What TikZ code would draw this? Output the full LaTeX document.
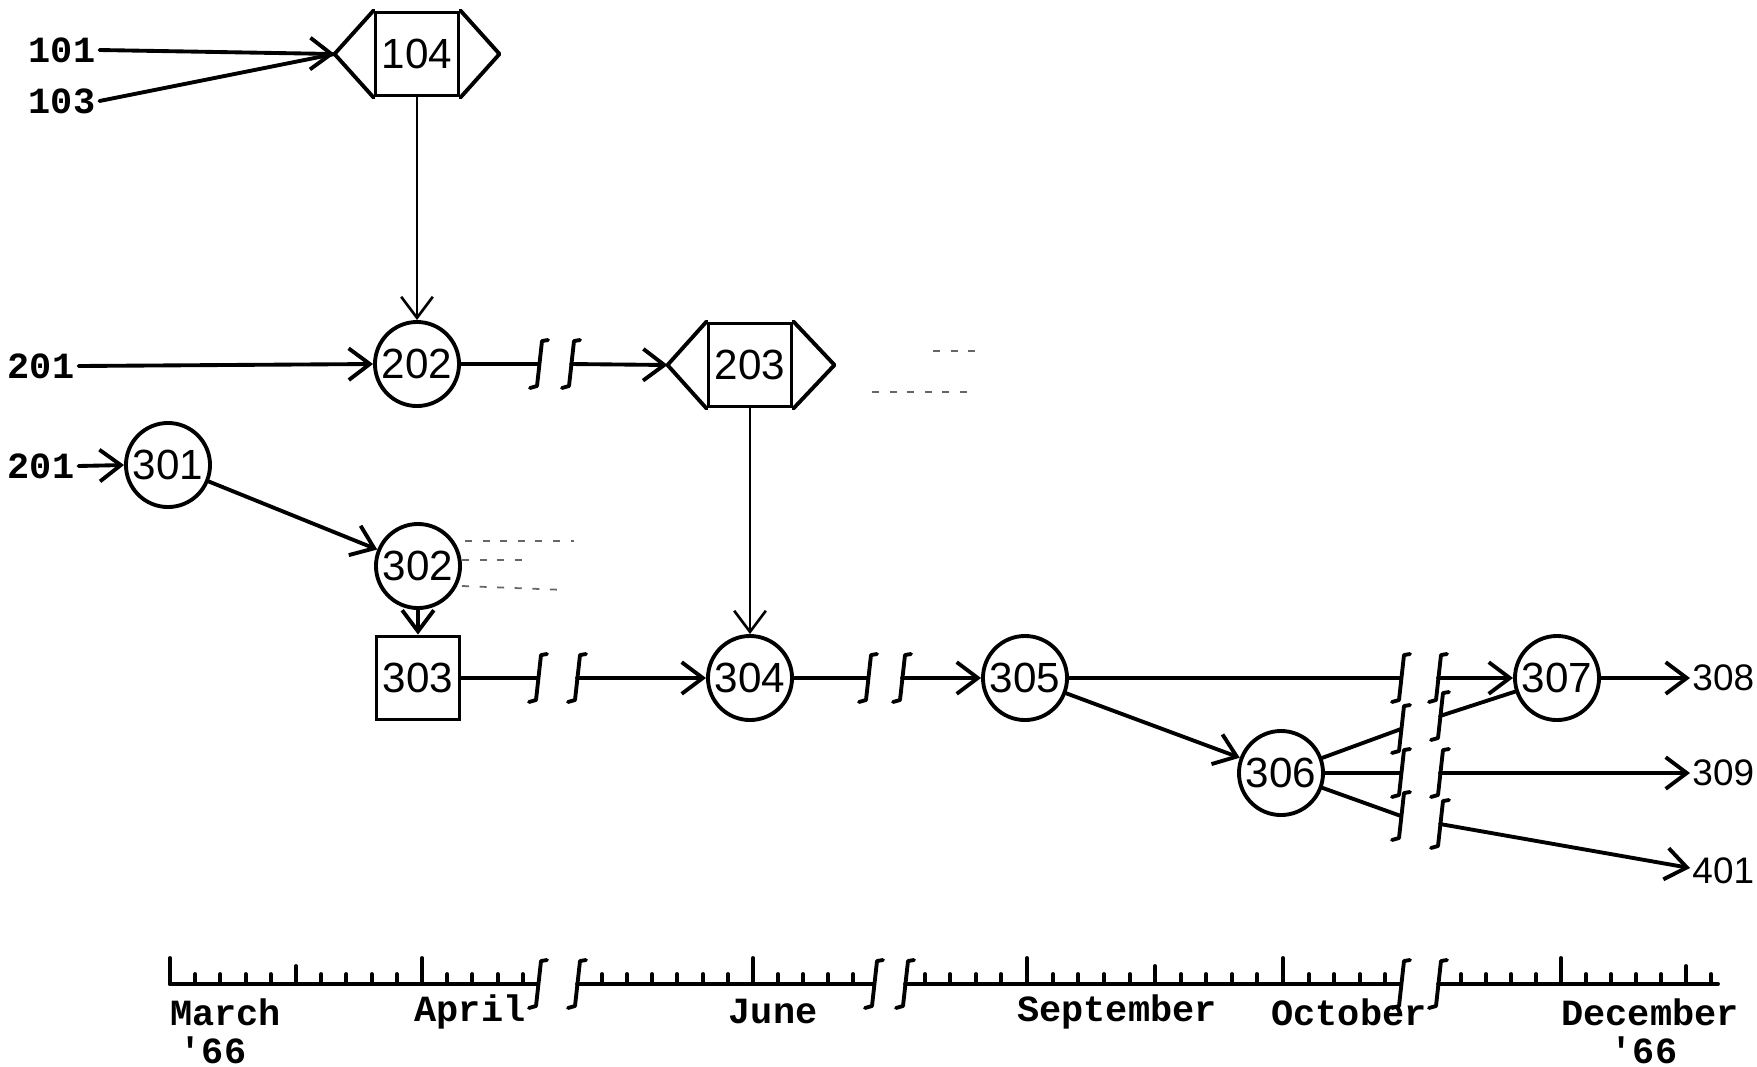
\documentclass[tikz,border=0pt]{standalone}
\usepackage{fontspec}
\newfontfamily\tw{Liberation Mono}
\newfontfamily\hw{Liberation Sans}
\usetikzlibrary{arrows.meta}
\begin{document}
\begin{tikzpicture}[x=0.01cm,y=-0.01cm,
  ln/.style={line width=1.1pt,line cap=round},
  thinln/.style={line width=0.75pt},
  arr/.style={-{Straight Barb[length=6pt,width=9pt]}},
  circ/.style={circle,draw,line width=1.1pt,minimum size=0.84cm,inner sep=0pt,font=\hw\fontsize{12}{12}\selectfont},
  box/.style={rectangle,draw,line width=1.1pt,minimum width=0.83cm,minimum height=0.83cm,inner sep=0pt,font=\hw\fontsize{12}{12}\selectfont},
  lab/.style={font=\tw\bfseries\fontsize{10.5}{10.5}\selectfont,inner sep=1pt},
  hlab/.style={font=\hw\fontsize{10.5}{10.5}\selectfont,inner sep=0.5pt},
  brk/.pic={\draw[line width=1.1pt,line cap=round,line join=round] (9,-24) -- (3,-23) -- (-2,22) -- (-9,24);},
  faint/.style={line width=0.5pt,black!60,dash pattern=on 2pt off 3pt}
]
\useasboundingbox (0,0) rectangle (1757,1066);

% ---------- nodes ----------
\node[box] (n104) at (417,54) {104};
\node[circ] (n202) at (417,364) {202};
\node[box] (n203) at (750,365) {203};
\node[circ] (n301) at (168,465) {301};
\node[circ] (n302) at (418,566) {302};
\node[box] (n303) at (418,678) {303};
\node[circ] (n304) at (750,678) {304};
\node[circ] (n305) at (1025,678) {305};
\node[circ] (n306) at (1281,773) {306};
\node[circ] (n307) at (1557,678) {307};

% hexagon points
\coordinate (n104L) at ([xshift=-0.39cm]n104.west);
\coordinate (n104R) at ([xshift=0.39cm]n104.east);
\coordinate (n203L) at ([xshift=-0.39cm]n203.west);
\coordinate (n203R) at ([xshift=0.41cm]n203.east);
\draw[ln,line join=round] (n104.north west) -- (n104L) -- (n104.south west);
\draw[ln,line join=round] (n104.north east) -- (n104R) -- (n104.south east);
\draw[ln,line join=round] (n203.north west) -- (n203L) -- (n203.south west);
\draw[ln,line join=round] (n203.north east) -- (n203R) -- (n203.south east);

% ---------- outside labels ----------
\node[lab] (l101) at (62,50) {101};
\node[lab] (l103) at (62,101) {103};
\node[lab] (l201a) at (41,366) {201};
\node[lab] (l201b) at (41,466) {201};
\node[hlab,anchor=west] (l308) at (1690,678) {308};
\node[hlab,anchor=west] (l309) at (1690,773) {309};
\node[hlab,anchor=west] (l401) at (1690,871) {401};

% ---------- connectors ----------
\draw[ln,arr] (l101.east) -- (n104L);
\draw[ln] (l103.east) -- (n104L);
\draw[thinln,arr] (n104.south) -- (n202.north);
\draw[ln,arr] (l201a.east) -- (n202.west);

\coordinate (b1a) at (539,364); \coordinate (b1b) at (571,364);
\draw[ln] (n202.east) -- (b1a);
\draw[ln,arr] (b1b) -- (n203L);
\pic at (b1a) {brk}; \pic at (b1b) {brk};

\draw[thinln,arr] (n203.south) -- (n304.north);

\draw[ln,arr] (l201b.east) -- (n301.west);
\draw[ln,arr] (n301) -- (n302);
\draw[ln,arr] (n302.south) -- (n303.north);

\coordinate (b2a) at (538,678); \coordinate (b2b) at (577,678);
\draw[ln] (n303.east) -- (b2a);
\draw[ln,arr] (b2b) -- (n304.west);
\pic at (b2a) {brk}; \pic at (b2b) {brk};

\coordinate (b3a) at (868,678); \coordinate (b3b) at (902,678);
\draw[ln] (n304.east) -- (b3a);
\draw[ln,arr] (b3b) -- (n305.west);
\pic at (b3a) {brk}; \pic at (b3b) {brk};

\coordinate (b4a) at (1401,678); \coordinate (b4b) at (1438,678);
\draw[ln] (n305.east) -- (b4a);
\draw[ln,arr] (b4b) -- (n307.west);
\pic at (b4a) {brk}; \pic at (b4b) {brk};

\draw[ln,arr] (n305) -- (n306);

\coordinate (b5a) at (1401,729); \coordinate (b5b) at (1440,716);
\draw[ln] (n306) -- (b5a);
\draw[ln] (b5b) -- (n307);
\pic at (b5a) {brk}; \pic at (b5b) {brk};

\coordinate (b6a) at (1401,773); \coordinate (b6b) at (1440,773);
\draw[ln] (n306.east) -- (b6a);
\draw[ln,arr] (b6b) -- (l309.west);
\pic at (b6a) {brk}; \pic at (b6b) {brk};

\coordinate (b7a) at (1401,816); \coordinate (b7b) at (1440,824);
\draw[ln] (n306) -- (b7a);
\draw[ln,arr] (b7b) -- ([yshift=0.03cm]l401.west);
\pic at (b7a) {brk}; \pic at (b7b) {brk};

\draw[ln,arr] (n307.east) -- (l308.west);

% faint dotted traces
\draw[faint] (933,351) -- (980,351);
\draw[faint] (872,392) -- (973,392);
\draw[faint] (465,541) -- (574,541);
\draw[faint] (462,560) -- (532,560);
\draw[faint] (462,586) -- (566,590);

% ---------- timeline ----------
\coordinate (t1a) at (170,984); \coordinate (t1b) at (538,984);
\coordinate (t2a) at (577,984); \coordinate (t2b) at (874,984);
\coordinate (t3a) at (905,984); \coordinate (t3b) at (1401,984);
\coordinate (t4a) at (1438,984); \coordinate (t4b) at (1718,984);
\draw[ln] (t1a) -- (t1b);
\draw[ln] (t2a) -- (t2b);
\draw[ln] (t3a) -- (t3b);
\draw[ln] (t4a) -- (t4b);
\pic at (t1b) {brk}; \pic at (t2a) {brk};
\pic at (t2b) {brk}; \pic at (t3a) {brk};
\pic at (t3b) {brk}; \pic at (t4a) {brk};

\foreach \x in {170,422,753,1027,1283,1561}
  \draw[ln] (\x,984) -- (\x,958);
\foreach \x in {296,1155,1686}
  \draw[ln] (\x,984) -- (\x,966);
\foreach \x in {195.2,220.4,245.6,270.8,321.2,346.4,371.6,396.8,447.2,472.4,497.6,522.8,
  602,627,652,677,703,728,778,803,828,853,
  925,950,976,1001,1053,1078,1104,1130,1181,1206,1232,1257,1309,1334,1360,1385,
  1461,1486,1511,1536,1586,1611,1636,1661,1711}
  \draw[ln] (\x,984) -- (\x,974);

\node[lab,anchor=west] (mMar) at (166,1012) {March};
\node[lab] (y1) at (213,1050) {'66};
\node[lab] (mApr) at (470,1012) {April};
\node[lab] (mJun) at (773,1012) {June};
\node[lab] (mSep) at (1117,1012) {September};
\node[lab] (mOct) at (1349,1012) {October};
\node[lab] (mDec) at (1650,1012) {December};
\node[lab] (y2) at (1644,1050) {'66};
\end{tikzpicture}
\end{document}
